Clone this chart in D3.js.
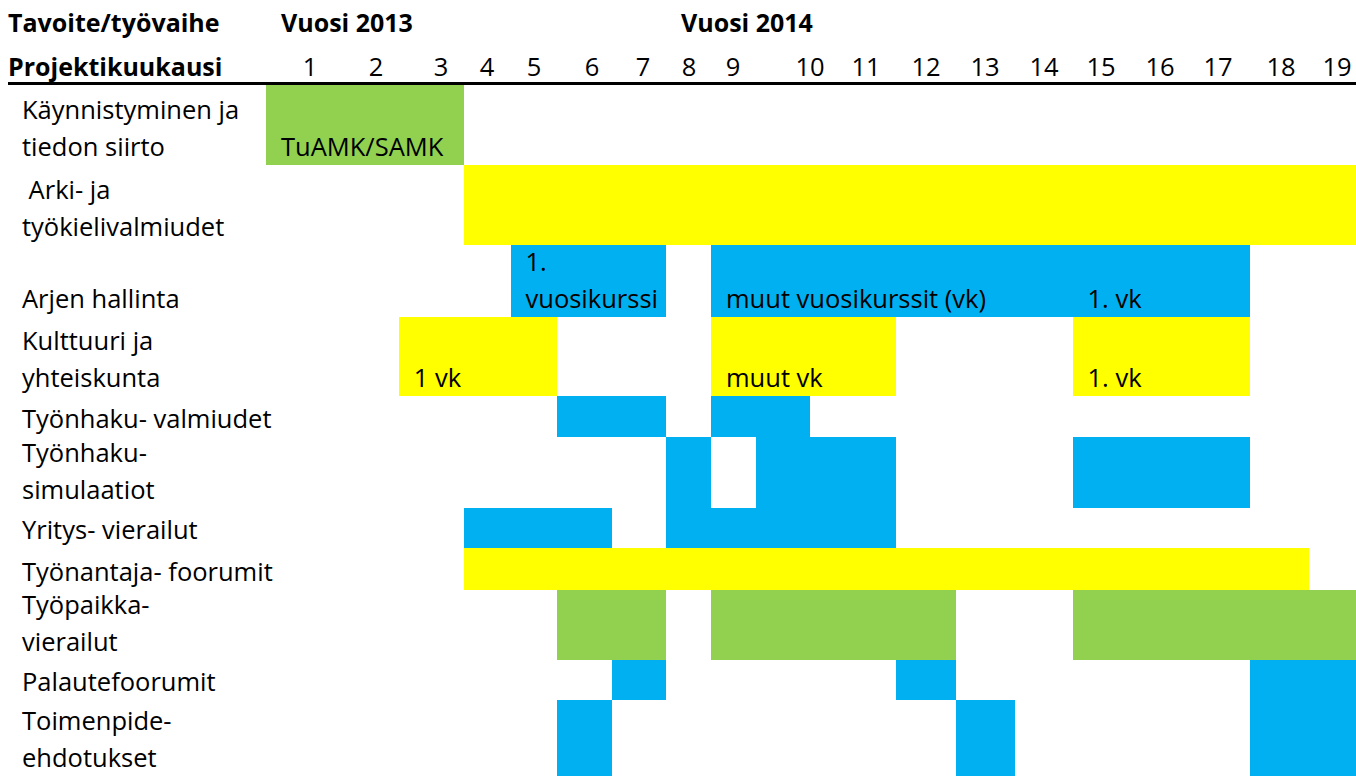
<!DOCTYPE html>
<html>
<head>
<meta charset="utf-8">
<script src="https://cdn.jsdelivr.net/npm/d3@7"></script>
<style>
  body { margin: 0; background: #fff; }
  text { font-family: 'Open Sans', Lato, sans-serif; font-size: 25.5px; fill: #000; }
  .bold { font-weight: bold; font-size: 25px; }
</style>
</head>
<body>
<svg id="chart" width="1356" height="776"></svg>
<script>
// Project months shown in the header row
const months = [1, 2, 3, 4, 5, 6, 7, 8, 9, 10, 11, 12, 13, 14, 15, 16, 17, 18, 19];
const years = [
  { label: 'Vuosi 2013', start: 0.5 },
  { label: 'Vuosi 2014', start: 7.5 }
];

// Goals / work phases, one line of the label per entry
const phases = [
  ['Käynnistyminen ja', 'tiedon siirto'],
  [' Arki- ja', 'työkielivalmiudet'],
  ['Arjen hallinta'],
  ['Kulttuuri ja', 'yhteiskunta'],
  ['Työnhaku- valmiudet'],
  ['Työnhaku-', 'simulaatiot'],
  ['Yritys- vierailut'],
  ['Työnantaja- foorumit'],
  ['Työpaikka-', 'vierailut'],
  ['Palautefoorumit'],
  ['Toimenpide-', 'ehdotukset']
];

// Bars: phase index, start / end in project months, fill type and text
const bars = [
  { row: 0, start: 0.5, end: 3.5, kind: 'green', text: ['TuAMK/SAMK'] },
  { row: 1, start: 3.5, end: 19.5, kind: 'yellow', text: [] },
  { row: 2, start: 4.5, end: 7.5, kind: 'blue', text: ['1.', 'vuosikurssi'] },
  { row: 2, start: 8.5, end: 14.5, kind: 'blue', text: ['muut vuosikurssit (vk)'] },
  { row: 2, start: 14.5, end: 17.5, kind: 'blue', text: ['1. vk'] },
  { row: 3, start: 2.35, end: 5.4, kind: 'yellow', text: ['1 vk'] },
  { row: 3, start: 8.5, end: 11.5, kind: 'yellow', text: ['muut vk'] },
  { row: 3, start: 14.5, end: 17.5, kind: 'yellow', text: ['1. vk'] },
  { row: 4, start: 5.4, end: 7.5, kind: 'blue', text: [] },
  { row: 4, start: 8.5, end: 10, kind: 'blue', text: [] },
  { row: 5, start: 7.5, end: 8.5, kind: 'blue', text: [] },
  { row: 5, start: 9.3, end: 11.5, kind: 'blue', text: [] },
  { row: 5, start: 14.5, end: 17.5, kind: 'blue', text: [] },
  { row: 6, start: 3.5, end: 6.4, kind: 'blue', text: [] },
  { row: 6, start: 7.5, end: 11.5, kind: 'blue', text: [] },
  { row: 7, start: 3.5, end: 18.5, kind: 'yellow', text: [] },
  { row: 8, start: 5.4, end: 7.5, kind: 'green', text: [] },
  { row: 8, start: 8.5, end: 12.5, kind: 'green', text: [] },
  { row: 8, start: 14.5, end: 19.5, kind: 'green', text: [] },
  { row: 9, start: 6.4, end: 7.5, kind: 'blue', text: [] },
  { row: 9, start: 11.5, end: 12.5, kind: 'blue', text: [] },
  { row: 9, start: 17.5, end: 19.5, kind: 'blue', text: [] },
  { row: 10, start: 5.4, end: 6.4, kind: 'blue', text: [] },
  { row: 10, start: 12.5, end: 13.5, kind: 'blue', text: [] },
  { row: 10, start: 17.5, end: 19.5, kind: 'blue', text: [] }
];

// Layout
const colors = { green: '#92D050', yellow: '#FFFF00', blue: '#00B0F0' };
const monthCenters = [310, 376, 441, 487, 534, 592, 643, 689, 733, 810, 866, 926, 985, 1044, 1101, 1160, 1218, 1281, 1337];
const tableTop = 85;
const rowHeights = [80, 80, 72, 79, 41, 71, 40, 42, 70, 40, 76];
const lineHeight = 37.5;
const baselineInset = 9;
const textPad = 15;

const svg = d3.select('#chart');

// The table columns are uneven, so map project months piecewise
const x = d3.scaleLinear()
  .domain([0.5].concat(months, [19.5]))
  .range([266].concat(monthCenters, [1356]));

const rowTops = rowHeights.map((h, i) => tableTop + d3.sum(rowHeights.slice(0, i)));
const rowBottom = i => rowTops[i] + rowHeights[i];

// Bars
svg.append('g').selectAll('rect')
  .data(bars)
  .join('rect')
  .attr('x', d => x(d.start))
  .attr('y', d => rowTops[d.row])
  .attr('width', d => x(d.end) - x(d.start))
  .attr('height', d => rowHeights[d.row])
  .attr('fill', d => colors[d.kind])
  .attr('shape-rendering', 'crispEdges');

// Text inside bars, bottom aligned like the row labels
svg.append('g').selectAll('text')
  .data(bars.filter(d => d.text.length))
  .join('text')
  .attr('x', d => x(d.start) + textPad)
  .attr('y', d => rowBottom(d.row) - baselineInset)
  .each(function (d) {
    const n = d.text.length;
    d3.select(this).selectAll('tspan')
      .data(d.text)
      .join('tspan')
      .attr('x', x(d.start) + textPad)
      .attr('dy', (t, i) => i === 0 ? -(n - 1) * lineHeight : lineHeight)
      .text(t => t);
  });

// Row labels
svg.append('g').selectAll('text')
  .data(phases)
  .join('text')
  .attr('x', 22)
  .attr('y', (d, i) => rowBottom(i) - baselineInset)
  .attr('xml:space', 'preserve')
  .each(function (d) {
    const n = d.length;
    d3.select(this).selectAll('tspan')
      .data(d)
      .join('tspan')
      .attr('x', 22)
      .attr('dy', (t, i) => i === 0 ? -(n - 1) * lineHeight : lineHeight)
      .text(t => t);
  });

// Header
const header = svg.append('g');
header.append('text').attr('class', 'bold').attr('x', 8).attr('y', 32).text('Tavoite/työvaihe');
header.append('text').attr('class', 'bold').attr('x', 8).attr('y', 76).text('Projektikuukausi');
header.selectAll('.year')
  .data(years)
  .join('text')
  .attr('class', 'year bold')
  .attr('x', d => x(d.start) + textPad)
  .attr('y', 32)
  .text(d => d.label);
header.selectAll('.month')
  .data(months)
  .join('text')
  .attr('class', 'month')
  .attr('x', d => x(d))
  .attr('y', 76)
  .attr('text-anchor', 'middle')
  .text(d => d);

header.append('line')
  .attr('x1', 8)
  .attr('x2', 1356)
  .attr('y1', tableTop - 1.5)
  .attr('y2', tableTop - 1.5)
  .attr('stroke', '#000')
  .attr('stroke-width', 3);
</script>
</body>
</html>
